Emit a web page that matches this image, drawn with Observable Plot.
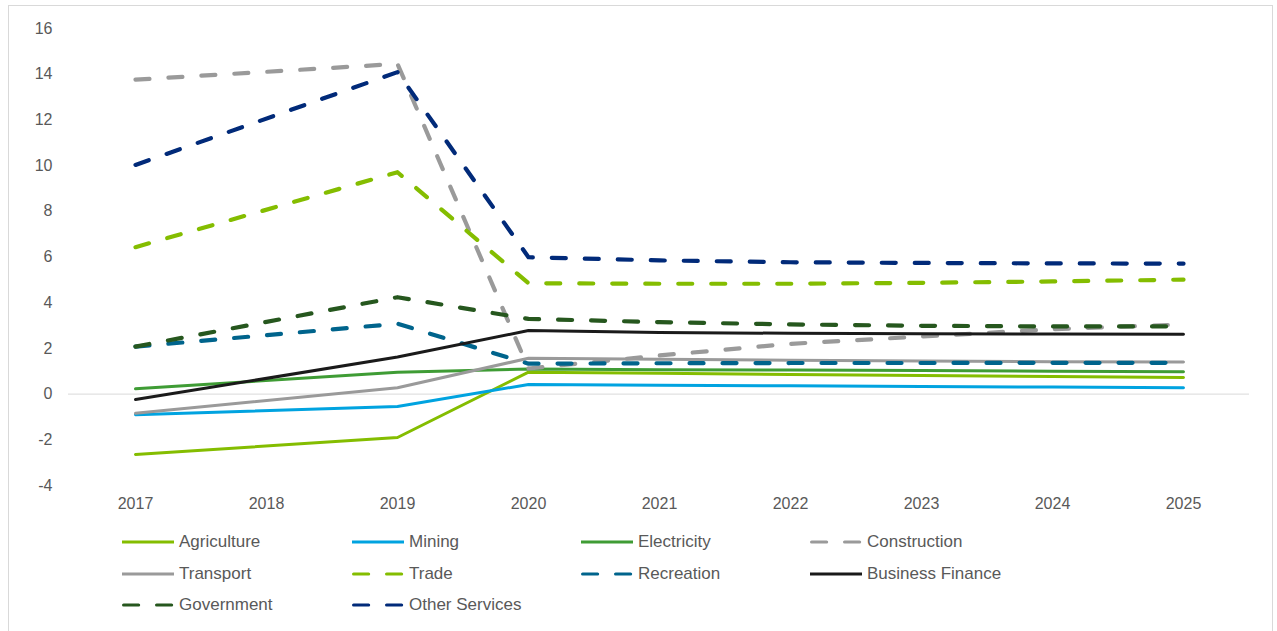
<!DOCTYPE html>
<html>
<head>
<meta charset="utf-8">
<script src="https://cdn.jsdelivr.net/npm/d3@7"></script>
<script src="https://cdn.jsdelivr.net/npm/@observablehq/plot@0.6"></script>
<style>
  html, body { margin: 0; padding: 0; background: #fff; }
  body { width: 1277px; height: 631px; overflow: hidden; position: relative; font-family: "Liberation Sans", Arial, sans-serif; }
  #frame { position: absolute; left: 8px; top: 5px; width: 1265px; height: 700px; border: 1.5px solid #d9d9d9; border-bottom: none; box-sizing: border-box; }
  #chart { position: absolute; left: 0; top: 0; }
  #legend { position: absolute; left: 0; top: 520px; width: 1277px; }
  .item { position: absolute; display: flex; align-items: center; height: 20px; font-size: 17px; color: #595959; white-space: nowrap; }
  .item svg { margin-right: 5px; }
</style>
</head>
<body>
<div id="frame"></div>
<div id="chart"></div>
<div id="legend"></div>
<script>
const years = [2017, 2018, 2019, 2020, 2021, 2022, 2023, 2024, 2025];
const yTicks = [-4, -2, 0, 2, 4, 6, 8, 10, 12, 14, 16];
const seriesNames = ["Agriculture", "Mining", "Electricity", "Construction", "Transport", "Trade", "Recreation", "Business Finance", "Government", "Other Services"];

const agriculture     = [-2.64, null, -1.90, 0.96, 0.91, 0.86, 0.81, 0.77, 0.73];
const mining          = [-0.90, null, -0.54, 0.42, 0.39, 0.36, 0.33, 0.31, 0.28];
const electricity     = [0.23, null, 0.96, 1.10, 1.07, 1.05, 1.03, 1.00, 0.98];
const construction    = [13.76, null, 14.45, 1.12, 1.69, 2.20, 2.52, 2.84, 3.05];
const transport       = [-0.84, null, 0.28, 1.57, 1.52, 1.48, 1.45, 1.42, 1.40];
const trade           = [6.43, null, 9.71, 4.85, 4.83, 4.83, 4.87, 4.93, 5.01];
const recreation      = [2.08, null, 3.08, 1.33, 1.35, 1.36, 1.36, 1.37, 1.37];
const businessFinance = [-0.24, null, 1.62, 2.78, 2.70, 2.66, 2.64, 2.63, 2.62];
const government      = [2.08, null, 4.24, 3.29, 3.15, 3.05, 2.99, 2.96, 2.96];
const otherServices   = [10.03, null, 14.09, 5.99, 5.85, 5.77, 5.74, 5.72, 5.71];

const seriesValues = [agriculture, mining, electricity, construction, transport, trade, recreation, businessFinance, government, otherServices];
const seriesColors = ["#84BD00", "#00A3E0", "#3F9C35", "#9A9A9A", "#9A9A9A", "#84BD00", "#00648C", "#1A1A1A", "#26571E", "#012A79"];
const seriesDashed = [false, false, false, true, false, true, true, false, true, true];

const table = [];
seriesNames.forEach((name, s) => {
  years.forEach((yr, i) => {
    const v = seriesValues[s][i];
    if (v != null) table.push({series: name, year: yr, value: v});
  });
});

const lineMarks = seriesNames.map((name, s) => Plot.line(table.filter(d => d.series === name), {
  x: "year", y: "value",
  stroke: seriesColors[s],
  strokeWidth: seriesDashed[s] ? 4.2 : 3,
  strokeDasharray: seriesDashed[s] ? "14,19" : null,
  strokeLinecap: "round",
  strokeLinejoin: "round"
}));

const chart = Plot.plot({
  width: 1277,
  height: 520,
  marginLeft: 68,
  marginRight: 28,
  marginTop: 28,
  marginBottom: 35,
  style: {fontFamily: "'Liberation Sans', Arial, sans-serif", fontSize: "16px", color: "#595959", background: "transparent", overflow: "visible"},
  x: {type: "point", domain: years, padding: 0.5},
  y: {domain: [-4, 16]},
  marks: [
    Plot.ruleY([0], {stroke: "#d9d9d9", strokeWidth: 1}),
    Plot.axisY({ticks: yTicks, tickSize: 0, tickPadding: 16, tickFormat: d => String(d), label: null}),
    Plot.axisX({tickSize: 0, tickPadding: 12, tickFormat: d => String(d), label: null}),
    ...lineMarks
  ]
});
document.getElementById("chart").appendChild(chart);

// Legend
const legend = document.getElementById("legend");
const colX = [122, 352, 581, 810];
const rowY = [12, 44, 75];
seriesNames.forEach((name, s) => {
  const item = document.createElement("div");
  item.className = "item";
  item.style.left = colX[s % 4] + "px";
  item.style.top = rowY[Math.floor(s / 4)] + "px";
  const line = seriesDashed[s]
    ? `<line x1="1.6" x2="52" y1="5" y2="5" stroke="${seriesColors[s]}" stroke-width="3.2" stroke-linecap="round" stroke-dasharray="15,18"/>`
    : `<line x1="0" x2="52" y1="5" y2="5" stroke="${seriesColors[s]}" stroke-width="3.2"/>`;
  item.innerHTML = `<svg width="52" height="10">${line}</svg><span>${name}</span>`;
  legend.appendChild(item);
});
</script>
</body>
</html>
